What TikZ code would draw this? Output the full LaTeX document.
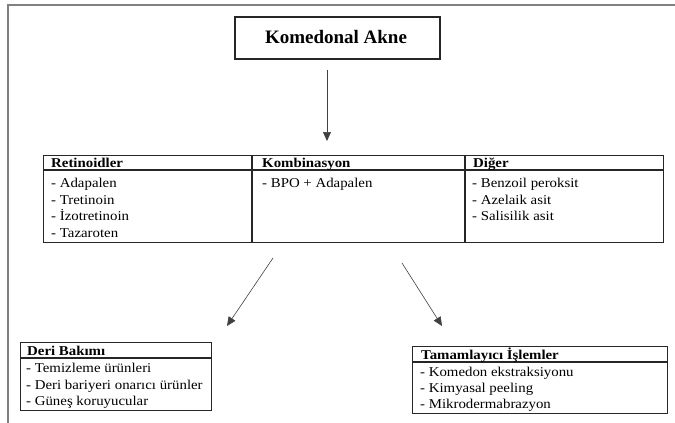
\documentclass[tikz,border=0pt]{standalone}
\usepackage{fontspec}
\setmainfont{Liberation Serif}[FakeStretch=1.1]
\newfontfamily\titlefont{Liberation Serif}
\usetikzlibrary{arrows.meta}
\tikzset{
  line/.style={draw=black!85, line width=1.3pt},
  box/.style={line, inner sep=0pt},
  arr/.style={draw=black!75, line width=0.6pt, -{Triangle[length=9pt,width=8pt]}},
  txt/.style={anchor=base west, inner sep=0pt, font=\fontsize{13.5}{15}\selectfont},
  hdr/.style={txt, font=\fontsize{13.5}{15}\selectfont\bfseries},
}
\begin{document}
\begin{tikzpicture}[x=1pt,y=-1pt]
\useasboundingbox (0,0) rectangle (675,423);
% outer frame (open to the right and bottom)
\draw[draw=black!50, line width=1.6pt] (8,424) -- (8,5) -- (676,5);

% title
\node[box, minimum width=205, minimum height=42] (title) at (337.5,38) {};
\node[anchor=base, inner sep=0pt, font=\titlefont\fontsize{19}{22}\selectfont\bfseries] (titletxt) at (336,43) {Komedonal Akne};

% table
\node[box, minimum width=620, minimum height=87, anchor=north west] (tbl) at (43,155) {};
\coordinate (hl) at (43,170);
\coordinate (hr) at (663,170);
\draw[line] (hl) -- (hr);
\draw[line] (252,155) -- (252,242);
\draw[line] (465,155) -- (465,242);
\node[hdr] (h1) at (51,167.5) {Retinoidler};
\node[hdr] (h2) at (262,167.5) {Kombinasyon};
\node[hdr] (h3) at (473,167.5) {Diğer};
\node[txt] (r1) at (51,187.5) {- Adapalen};
\node[txt] (r2) at (51,204) {- Tretinoin};
\node[txt] (r3) at (51,220.5) {- İzotretinoin};
\node[txt] (r4) at (51,237) {- Tazaroten};
\node[txt] (k1) at (262,187.5) {- BPO + Adapalen};
\node[txt] (d1) at (472,187.5) {- Benzoil peroksit};
\node[txt] (d2) at (472,204) {- Azelaik asit};
\node[txt] (d3) at (472,220.5) {- Salisilik asit};

% Deri Bakimi box
\node[box, minimum width=191, minimum height=68, anchor=north west] (deri) at (20,342) {};
\draw[line] (20,358) -- (211,358);
\node[hdr] (dh) at (27,355) {Deri Bakımı};
\node[txt] (di1) at (26,372.5) {- Temizleme ürünleri};
\node[txt] (di2) at (26,389) {- Deri bariyeri onarıcı ürünler};
\node[txt] (di3) at (26,405) {- Güneş koruyucular};

% Tamamlayici Islemler box
\node[box, minimum width=255, minimum height=67, anchor=north west] (tam) at (412,346) {};
\draw[line] (412,362) -- (667,362);
\node[hdr] (th) at (421,359) {Tamamlayıcı İşlemler};
\node[txt] (ti1) at (420,376.5) {- Komedon ekstraksiyonu};
\node[txt] (ti2) at (420,392) {- Kimyasal peeling};
\node[txt] (ti3) at (420,408) {- Mikrodermabrazyon};

% arrows
\coordinate (a1s) at (327,70);
\coordinate (a1e) at (327,141);
\coordinate (a2s) at (273,258);
\coordinate (a2e) at (227,326);
\coordinate (a3s) at (402,263);
\coordinate (a3e) at (442,326);
\draw[arr] (a1s) -- (a1e);
\draw[arr] (a2s) -- (a2e);
\draw[arr] (a3s) -- (a3e);
\end{tikzpicture}
\end{document}
